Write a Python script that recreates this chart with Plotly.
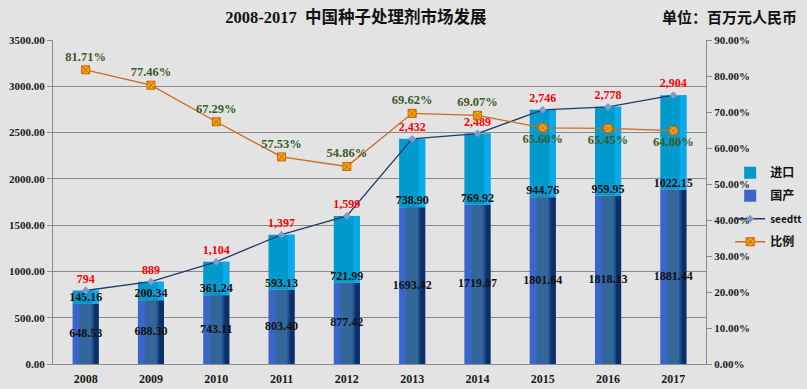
import plotly.graph_objects as go

# ---------------- data ----------------
years = ["2008", "2009", "2010", "2011", "2012", "2013", "2014", "2015", "2016", "2017"]
domestic = [648.53, 688.30, 743.11, 803.40, 877.42, 1693.42, 1719.07, 1801.64, 1818.13, 1881.44]
imported = [145.16, 200.34, 361.24, 593.13, 721.99, 738.90, 769.92, 944.76, 959.95, 1022.15]
total = [794, 889, 1104, 1397, 1599, 2432, 2489, 2746, 2778, 2904]
ratio = [81.71, 77.46, 67.29, 57.53, 54.86, 69.62, 69.07, 65.60, 65.45, 64.80]
ratio_text_pos = ["top center"] * 7 + ["bottom center"] * 3

# ---------------- styles ----------------
SERIF = "Liberation Serif"
CJK = "Noto Sans CJK SC"
GRID = "#8a8a8a"
BG = "#e3e3e3"
n = len(years)

dom_stripes = [(-0.2, 0.4, "#3a66cc"), (-0.093, 0.184, "#336699"),
               (0.091, 0.031, "#1c4a8c"), (0.122, 0.078, "#0c2f66")]
imp_stripes = [(-0.2, 0.4, "#0099cc"), (0.10, 0.10, "#0aa9ea")]

fig = go.Figure()

for i, (off, w, col) in enumerate(dom_stripes):
    fig.add_trace(go.Bar(
        x=years, y=domestic, offset=[off] * n, width=[w] * n,
        marker=dict(color=col, line=dict(width=0)),
        name="国产", showlegend=(i == 0), legendrank=2, legendgroup="g2",
        hoverinfo="skip"))

for i, (off, w, col) in enumerate(imp_stripes):
    fig.add_trace(go.Bar(
        x=years, y=imported, base=domestic, offset=[off] * n, width=[w] * n,
        marker=dict(color=col, line=dict(width=0)),
        name="进口", showlegend=(i == 0), legendrank=1, legendgroup="g1",
        hoverinfo="skip"))

# value labels on the bars
fig.add_trace(go.Scatter(
    x=years, y=[d / 2 for d in domestic], mode="text",
    text=[f"{d:.2f}" for d in domestic], textposition="middle center",
    textfont=dict(family=SERIF, size=12, color="#111111", weight="bold"),
    showlegend=False, hoverinfo="skip"))
fig.add_trace(go.Scatter(
    x=years, y=domestic, mode="text",
    text=[f"{v:.2f}" for v in imported], textposition="top center",
    textfont=dict(family=SERIF, size=12, color="#111111", weight="bold"),
    showlegend=False, hoverinfo="skip"))

# total line (seedtt)
fig.add_trace(go.Scatter(
    x=years, y=total, mode="lines+markers+text",
    name="<span style='font-size:10px'>seedtt</span>",
    line=dict(color="#1f3a70", width=1.3),
    marker=dict(symbol="diamond", size=6, color="#7a9cd0"),
    texttemplate="%{y:,.0f}", textposition="top center",
    textfont=dict(family=SERIF, size=12, color="#ff0000", weight="bold"),
    legendrank=3, legendgroup="g3"))

# ratio line
fig.add_trace(go.Scatter(
    x=years, y=ratio, yaxis="y2", mode="lines+markers+text", name="比例",
    line=dict(color="#cf6a1c", width=1.3),
    marker=dict(symbol="square-x", size=8, color="#f5a800",
                line=dict(color="#c86400", width=1)),
    texttemplate="%{y:.2f}%", textposition=ratio_text_pos,
    textfont=dict(family=SERIF, size=12.5, color="#3b5a2a", weight="bold"),
    legendrank=4, legendgroup="g4"))

tickfont = dict(family=SERIF, size=11, color="#1a1a1a", weight="bold")

fig.update_layout(
    width=807, height=389,
    margin=dict(l=53, r=101, t=40, b=25, autoexpand=False),
    paper_bgcolor=BG, plot_bgcolor=BG,
    barmode="overlay",
    title=dict(text="<b>2008-2017  中国种子处理剂市场发展</b>",
               font=dict(family=f"{SERIF}, {CJK}", size=16.5, color="#111111"),
               x=0.441, xanchor="center", y=0.956, yanchor="middle",
               xref="container", yref="container"),
    xaxis=dict(type="category", range=[-0.5, len(years) - 0.5],
               showline=True, linecolor=GRID, linewidth=1,
               showgrid=False, ticks="", ticklabelstandoff=4, automargin=False,
               tickfont=dict(family=SERIF, size=12, color="#1a1a1a", weight="bold")),
    yaxis=dict(range=[0, 3500], dtick=500, tickformat=".2f", automargin=False,
               showgrid=True, gridcolor=GRID, gridwidth=1, zeroline=False,
               showline=True, linecolor=GRID, linewidth=1,
               ticks="outside", ticklen=5, tickcolor=GRID, tickfont=tickfont),
    yaxis2=dict(overlaying="y", side="right", range=[0, 90], dtick=10,
                tickformat=".2f", ticksuffix="%", showgrid=False, zeroline=False,
                showline=True, linecolor=GRID, linewidth=1, ticklabelstandoff=0,
                automargin=False,
                ticks="outside", ticklen=5, tickcolor=GRID, tickfont=tickfont),
    legend=dict(x=1.037, y=0.635, xanchor="left", yanchor="top",
                bgcolor="rgba(0,0,0,0)", traceorder="grouped", tracegroupgap=4,
                font=dict(family=f"{CJK}", size=12, color="#111111", weight="bold")),
    annotations=[dict(text="<b>单位：百万元人民币</b>", xref="paper", yref="paper",
                      x=1.036, y=1.071, xanchor="center", yanchor="middle",
                      showarrow=False,
                      font=dict(family=CJK, size=15, color="#111111"))],
    hovermode=False,
)

fig.write_html("out.html", config={"displayModeBar": False},
               post_script="document.body.style.margin='0';"
                           "document.body.style.overflow='hidden';")
